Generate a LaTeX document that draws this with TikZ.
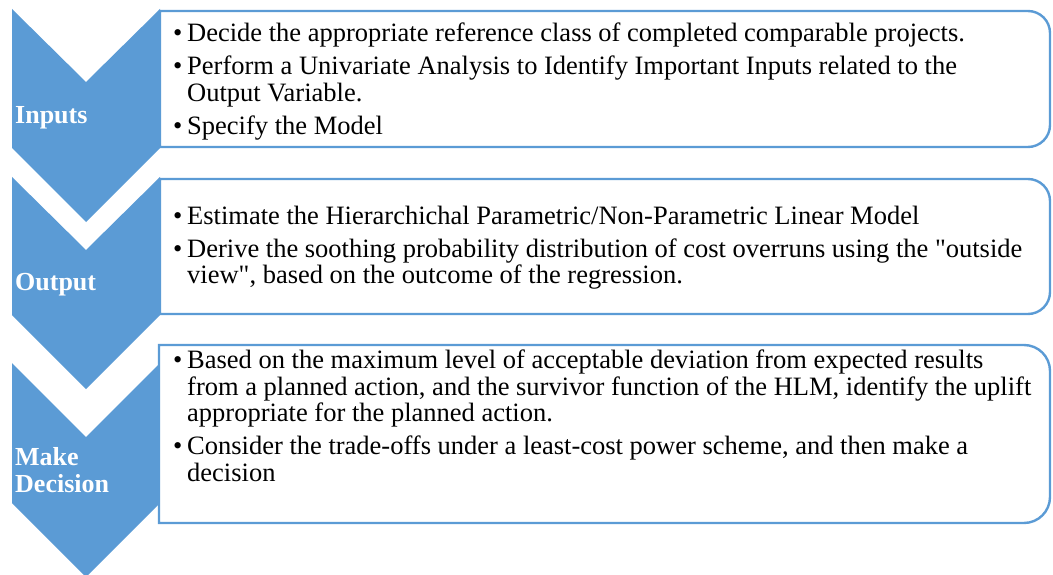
\documentclass[tikz,border=0pt]{standalone}
\usepackage{fontspec}
\setmainfont{Liberation Serif}
\newfontfamily\qfont{Liberation Serif}
\definecolor{chev}{HTML}{5B9BD5}
\definecolor{boxln}{HTML}{5B9BD5}
\newcommand\bul{\makebox[14pt][l]{\textbullet}}
\newcommand\cont{\hspace*{14pt}}
\newcommand\qq{{\qfont"}}
\tikzset{
  chevron/.style={fill=chev, draw=none},
  itembox/.style={draw=boxln, fill=white, line width=2.4pt},
  label/.style={text=white, font=\fontsize{26}{27}\selectfont\bfseries, inner sep=0pt, anchor=base west, align=left},
  boxtext/.style={inner sep=0pt, anchor=base west, font=\fontsize{26.5}{26.5}\selectfont}
}
\begin{document}
\begin{tikzpicture}[x=1pt,y=1pt,yscale=-1]
\useasboundingbox (0,0) rectangle (1053,575);
% chevrons
\fill[chevron] (12,9) -- (86,82) -- (160,9) -- (160,148) -- (86,222) -- (12,148) -- cycle;
\fill[chevron] (12,177) -- (86,250) -- (160,177) -- (160,315) -- (86,389) -- (12,315) -- cycle;
\fill[chevron] (12,363) -- (86,437) -- (160,363) -- (160,503) -- (86,577) -- (12,503) -- cycle;
% boxes
\draw[itembox] (160,11) -- (1028,11) arc[start angle=270,end angle=360,radius=22] -- (1050,125) arc[start angle=0,end angle=90,radius=22] -- (160,147) -- cycle;
\draw[itembox] (160,179) -- (1028,179) arc[start angle=270,end angle=360,radius=22] -- (1050,292) arc[start angle=0,end angle=90,radius=22] -- (160,314) -- cycle;
\draw[itembox] (159,345) -- (1024,345) arc[start angle=270,end angle=360,radius=26] -- (1050,497) arc[start angle=0,end angle=90,radius=26] -- (159,523) -- cycle;
% labels
\node[label] (l1) at (15,124) {Inputs};
\node[label] (l2) at (15,290) {Output};
\node[label] (l3) at (15,465) {\parbox[t]{140pt}{Make\\Decision}};
% texts
\node[boxtext] (t1) at (173,41.7) {\parbox[t]{880pt}{%
\bul Decide the appropriate reference class of completed comparable projects.\\[6.5pt]
\bul Perform a Univariate Analysis to Identify Important Inputs related to the\\
\cont Output Variable.\\[6.5pt]
\bul Specify the Model}};
\node[boxtext] (t2) at (173,225) {\parbox[t]{880pt}{%
\bul Estimate the Hierarchichal Parametric/Non-Parametric Linear Model\\[6pt]
\bul Derive the soothing probability distribution of cost overruns using the \qq outside\\
\cont view\qq, based on the outcome of the regression.}};
\node[boxtext] (t3) at (173,368.5) {\parbox[t]{880pt}{%
\bul Based on the maximum level of acceptable deviation from expected results\\
\cont from a planned action, and the survivor function of the HLM, identify the uplift\\
\cont appropriate for the planned action.\\[6.5pt]
\bul Consider the trade-offs under a least-cost power scheme, and then make a\\
\cont decision}};
\end{tikzpicture}
\end{document}
